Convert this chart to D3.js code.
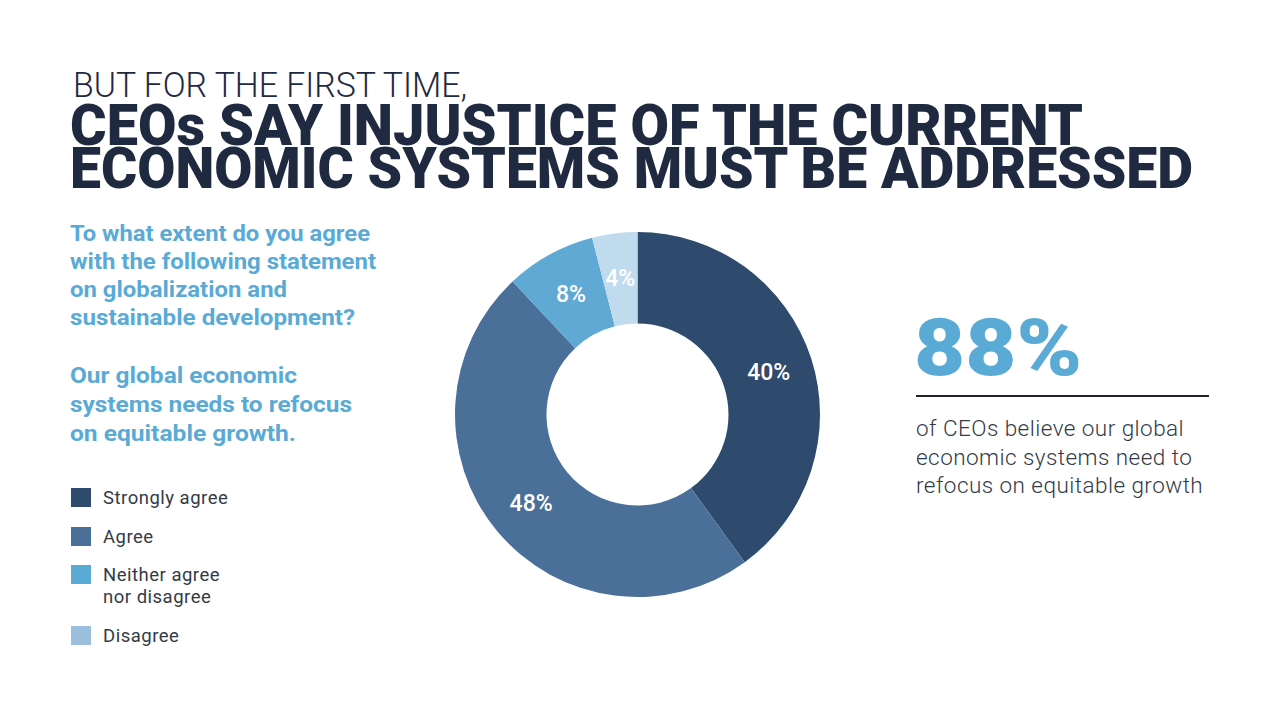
<!DOCTYPE html>
<html>
<head>
<meta charset="utf-8">
<script src="https://cdn.jsdelivr.net/npm/d3@7"></script>
<style>
  html, body { margin: 0; padding: 0; background: #ffffff; }
  svg { display: block; }
  text { font-family: Roboto, "Noto Sans", sans-serif; }
</style>
</head>
<body>
<svg id="chart" width="1280" height="720"></svg>
<script>
// ---- data ----
const categories = ["Strongly agree", "Agree", "Neither agree\nnor disagree", "Disagree"];
const values = [40, 48, 8, 4];
const sliceColors = ["#2e4a6d", "#4a7099", "#5fa9d4", "#c0dbee"];
const legendColors = ["#2e4a6d", "#4a7099", "#5aaad6", "#9cbfdd"];
const kicker = "BUT FOR THE FIRST TIME,";
const titleLines = ["CEOs SAY INJUSTICE OF THE CURRENT", "ECONOMIC SYSTEMS MUST BE ADDRESSED"];
const questionLines = ["To what extent do you agree", "with the following statement", "on globalization and", "sustainable development?"];
const statementLines = ["Our global economic", "systems needs to refocus", "on equitable growth."];
const bigStat = "88%";
const statLines = ["of CEOs believe our global", "economic systems need to", "refocus on equitable growth"];

const svg = d3.select("#chart");
const navy = "#1f2940";
const blue = "#5aaad6";
const textDark = "#333a48";

// ---- header (one text block, three lines) ----
const header = svg.append("text").attr("fill", navy);
header.append("tspan")
  .attr("x", 73).attr("y", 97)
  .attr("font-size", 35).attr("font-weight", 300)
  .attr("textLength", 394).attr("lengthAdjust", "spacingAndGlyphs")
  .text(kicker);
const titleWidths = [1013, 1123];
titleLines.forEach((t, i) => {
  header.append("tspan")
    .attr("x", 70).attr("y", 145 + i * 43)
    .attr("font-size", 57).attr("font-weight", 900)
    .attr("textLength", titleWidths[i]).attr("lengthAdjust", "spacingAndGlyphs")
    .text(t);
});

// ---- question ----
const questionWidths = [300, 306, 217, 285];
const statementWidths = [227, 282, 226];
const q = svg.append("text").attr("fill", blue).attr("font-size", 22).attr("font-weight", 700);
questionLines.forEach((t, i) => {
  q.append("tspan")
    .attr("x", 70).attr("y", 241 + i * 28)
    .attr("textLength", questionWidths[i]).attr("lengthAdjust", "spacingAndGlyphs")
    .text(t);
});
statementLines.forEach((t, i) => {
  q.append("tspan")
    .attr("x", 70).attr("y", 383 + i * 29)
    .attr("textLength", statementWidths[i]).attr("lengthAdjust", "spacingAndGlyphs")
    .text(t);
});

// ---- legend ----
const legendY = d3.scaleOrdinal().domain(categories).range([488, 527, 565, 626]);
const lg = svg.append("g");
categories.forEach((c, i) => {
  const y0 = legendY(c);
  lg.append("rect")
    .attr("x", 71).attr("y", y0)
    .attr("width", 20).attr("height", 19)
    .attr("fill", legendColors[i]);
  const tx = lg.append("text")
    .attr("x", 103).attr("y", y0 + 16)
    .attr("font-size", 18.5).attr("font-weight", 400)
    .attr("letter-spacing", 0.5)
    .attr("fill", textDark);
  c.split("\n").forEach((line, j) => {
    tx.append("tspan").attr("x", 103).attr("dy", j === 0 ? 0 : 22).text(line);
  });
});

// ---- donut ----
const cx = 637.5, cy = 414.5;
const outerR = 182.5, innerR = 91;
const pie = d3.pie().sort(null).value(d => d);
const arcs = pie(values);
const arc = d3.arc().innerRadius(innerR).outerRadius(outerR);
const labelArc = d3.arc().innerRadius(138).outerRadius(138);
const g = svg.append("g").attr("transform", `translate(${cx},${cy})`);
g.selectAll("path").data(arcs).join("path")
  .attr("d", arc)
  .attr("fill", (d, i) => sliceColors[i]);
g.selectAll("text.lbl").data(arcs).join("text")
  .attr("class", "lbl")
  .attr("transform", d => {
    const [x, y] = labelArc.centroid(d);
    return `translate(${x},${y})`;
  })
  .attr("text-anchor", "middle")
  .attr("dy", "0.36em")
  .attr("font-size", 23).attr("font-weight", 500)
  .attr("fill", "#ffffff")
  .text(d => d.data + "%");

// ---- right stat ----
svg.append("text")
  .attr("x", 914).attr("y", 375)
  .attr("font-size", 80).attr("font-weight", 900)
  .attr("fill", blue)
  .attr("textLength", 168).attr("lengthAdjust", "spacingAndGlyphs")
  .text(bigStat);
svg.append("line")
  .attr("x1", 916).attr("x2", 1209)
  .attr("y1", 396).attr("y2", 396)
  .attr("stroke", "#1f2430").attr("stroke-width", 2);
const st = svg.append("text")
  .attr("font-size", 22.5).attr("font-weight", 300)
  .attr("letter-spacing", 0.45)
  .attr("fill", textDark);
statLines.forEach((t, i) => {
  st.append("tspan")
    .attr("x", 916).attr("y", 436 + i * 28.5)
    .text(t);
});
</script>
</body>
</html>
